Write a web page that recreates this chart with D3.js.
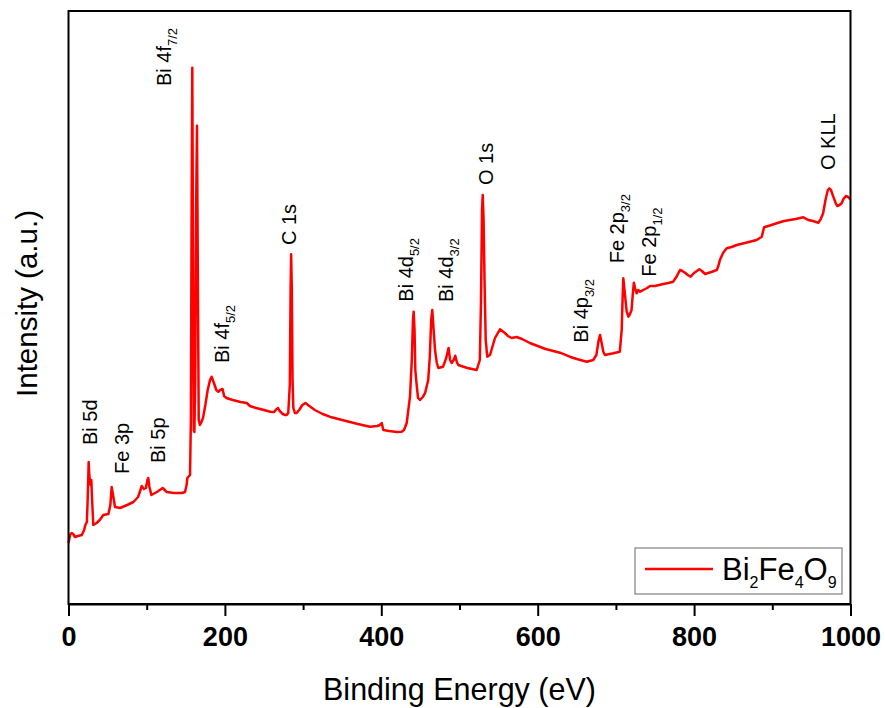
<!DOCTYPE html>
<html>
<head>
<meta charset="utf-8">
<script src="https://cdn.jsdelivr.net/npm/d3@7"></script>
<style>
  html, body { margin: 0; padding: 0; background: #fff; }
  svg { display: block; font-family: "Liberation Sans", Arial, sans-serif; }
</style>
</head>
<body>
<svg id="chart" width="885" height="708"></svg>
<script>
// ---- data (binding energy in eV, intensity in arbitrary units) ----
const energy = [0,2,4,6,8.3,12,17,20,21.5,23.5,24.5,25.8,26.6,27.5,28.3,29.2,30.2,31.7,36,40,44.5,51,53.5,55.2,57,59.5,66,75,83,89,92,93.6,96.5,99,101,102,103.5,106,113,120.5,125.6,135,145,149,151,152,155.4,156.5,157.5,158.3,159.2,160.2,161,162,163.3,164.3,165.3,166.5,168,170,172,175,178,181,183,186,189,191.6,194,197,199,202,210,220,228,232,240,250,258,263,266,268,270,274,277,279,281,283,284,284.7,285.6,286.5,287.5,289.5,291.8,295,299,303,308,315,325,334,350,370,385.5,395,398,400.5,402.6,410,420,426,429,432.5,436.7,439,440.5,441.4,442.5,443.5,445,447,449.5,453,456,460,462,463.8,465.2,466.5,468.7,471,473,479,483,486,488,490,492.5,494.6,496.5,498.5,510,522,526,527.5,528.8,529.7,530.8,532,533.5,535.5,539,545.4,551.8,558,562,566.7,573,580,590,600,610,620,628.5,641,650,662.7,671,675,678,679.7,681.5,684,686,696.7,705,707.4,708.5,709.5,711,713.8,716,718,720,721.5,723,724.5,726.6,728.5,731,735,740,743.6,750,760.6,767,773.4,778,782,785,788.4,792,795.6,800,806.7,810,814,822,829,831,833,837,841.7,848,854.5,865,875,880,886.5,888,889.5,895,905.6,915,922.6,930,939.7,946,952,958.8,962,965,968,971,973,975,978,981,983,986,988.6,991,994,997,999.5];
const intensity = [61,69,71,70,67,68,69,74,79,82,104,142,129,122,119,124,104,79,81,84,89,90,99,117,109,97,96,99,102,107,114,118,115,116,124,126,117,109,112,116,112,111,111,112,119,126,129,184,404,536.3,354,174,172,224,404,478.3,344,184,179,182,186,199,214,224,227.3,221,214,212.3,214,215,208,206,204,202,201,198,196,194,192.3,192,195,196,193,190,189,189,191,219,314,349.7,314,224,196,191,191,194,199,201,198,194,190,187.3,184,180,177.3,178,179,181,174,173,172,172.3,174,181,207.3,244,284,292.3,274,234,221,206,204,207,211,224,247,284,294,279,254,241,236,237.3,246,256,244,241,244,248.3,242,239,236,234,244,304,394,409,384,324,264,247.3,249,266,274.7,271,268,266,267,265,261,258,255,253,251.3,247.3,245,242.3,244,249,264,269,262,252,249,250.7,252.3,274,304,325.7,314,292.3,287.3,290,294,309,321.3,316,310.7,314,312.3,314,316,318,318,320,321,322.3,328,334,333,331.3,329,327.3,331,334.7,333,330,332,334,338,344,351,355.7,357,359,361,363,364,367.3,372,376.7,378,380.7,383,384,385,386.7,384,383,381.3,385,390.7,404,414,415.7,414,407.3,401,398,399,400.7,405,408,407,404.7];

// peak annotations: label, subscript, energy (eV), intensity level where the label starts
const peakNames  = ["Bi 5d","Fe 3p","Bi 5p","Bi 4f","Bi 4f","C 1s","Bi 4d","Bi 4d","O 1s","Bi 4p","Fe 2p","Fe 2p","O KLL"];
const peakSubs   = ["","","","7/2","5/2","","5/2","3/2","","3/2","3/2","1/2",""];
const peakEnergy = [27.5,68.4,114.5,122.1,196.3,282,431.2,482.4,533.9,656,701,742.3,970.6];
const peakLevel  = [159,130,141,518,241,359,302.3,302,419,261.3,340.7,327.3,434];

const xTicksMajor = [0,200,400,600,800,1000];
const xTicksMinor = [100,300,500,700,900];
const xDomain = [0,1000];
const yDomain = [0,593];
const seriesName = ["Bi","2","Fe","4","O","9"];

// ---- layout ----
const svg = d3.select("#chart");
const mLeft = 68.5, mRight = 850.5, mTop = 11, mBottom = 604;
const x = d3.scaleLinear().domain(xDomain).range([mLeft, mRight]);
const y = d3.scaleLinear().domain(yDomain).range([mBottom, mTop]);

// spectrum line
const pts = energy.map((e,i)=>[e,intensity[i]]);
svg.append("path")
  .datum(pts)
  .attr("fill","none")
  .attr("stroke","#ff0000")
  .attr("stroke-width",2.5)
  .attr("stroke-linejoin","round")
  .attr("d", d3.line().x(d=>x(d[0])).y(d=>y(d[1])));

// frame
svg.append("rect")
  .attr("x",mLeft).attr("y",mTop)
  .attr("width",mRight-mLeft).attr("height",mBottom-mTop)
  .attr("fill","none").attr("stroke","#000").attr("stroke-width",2);

// bottom axis: majors with labels
const gx = svg.append("g").attr("transform",`translate(0,${mBottom})`)
  .call(d3.axisBottom(x).tickValues(xTicksMajor).tickSize(12).tickSizeOuter(0).tickPadding(11).tickFormat(d3.format("d")));
gx.select(".domain").attr("stroke-width",2);
gx.selectAll(".tick line").attr("stroke-width",2);
gx.selectAll(".tick text").attr("font-size",27).attr("font-weight","bold").attr("fill","#000")
  .attr("font-family",'"Liberation Sans", Arial, sans-serif');
// minor ticks
const gm = svg.append("g").attr("transform",`translate(0,${mBottom})`)
  .call(d3.axisBottom(x).tickValues(xTicksMinor).tickSize(6).tickSizeOuter(0).tickFormat(""));
gm.select(".domain").remove();
gm.selectAll(".tick line").attr("stroke-width",2);

// axis titles
svg.append("text")
  .attr("x",(mLeft+mRight)/2).attr("y",700)
  .attr("text-anchor","middle").attr("font-size",30.5).attr("fill","#000")
  .text("Binding Energy (eV)");
svg.append("text")
  .attr("transform","translate(37,303.5) rotate(-90)")
  .attr("text-anchor","middle").attr("font-size",29.5).attr("fill","#000")
  .text("Intensity (a.u.)");

// peak labels
peakNames.forEach((n,i)=>{
  const t = svg.append("text")
    .attr("transform",`translate(${x(peakEnergy[i])},${y(peakLevel[i])}) rotate(-90)`)
    .attr("dy","0.35em")
    .attr("font-size",20).attr("fill","#000");
  t.append("tspan").text(n);
  if (peakSubs[i]) {
    t.append("tspan").attr("font-size",13).attr("dy",6).text(peakSubs[i]);
  }
});

// legend
const lg = svg.append("g");
lg.append("rect").attr("x",635).attr("y",548).attr("width",207).attr("height",46)
  .attr("fill","#fff").attr("stroke","#808080").attr("stroke-width",1.2);
lg.append("line").attr("x1",645).attr("x2",713).attr("y1",569).attr("y2",569)
  .attr("stroke","#ff0000").attr("stroke-width",2.5);
const lt = lg.append("text").attr("x",722).attr("y",580).attr("font-size",31).attr("fill","#000");
seriesName.forEach((s,i)=>{
  if (i%2===0) lt.append("tspan").attr("font-size",31).attr("dy", i===0?0:-8).text(s);
  else lt.append("tspan").attr("font-size",16).attr("dy",8).text(s);
});
</script>
</body>
</html>
